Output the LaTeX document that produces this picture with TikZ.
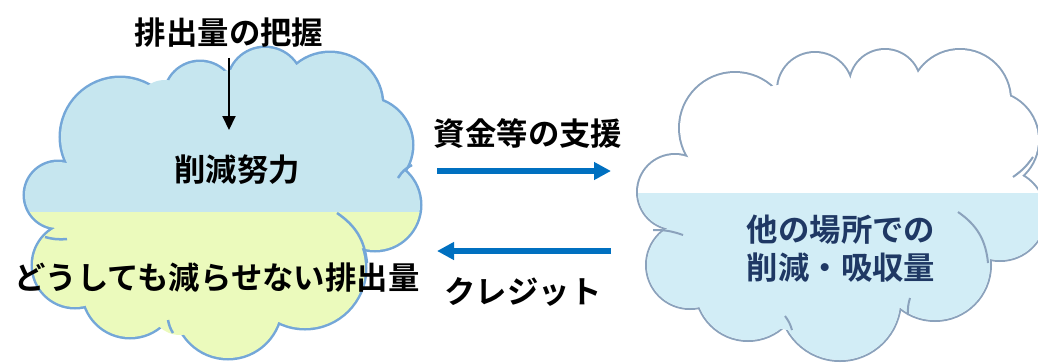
\documentclass[tikz,border=0pt]{standalone}
\usepackage{fontspec}
\newfontfamily\jp[BoldFont={Noto Sans CJK JP Bold}]{Noto Sans CJK JP}
\usetikzlibrary{arrows.meta}
\definecolor{effortblue}{HTML}{C6E6EF}
\definecolor{residyellow}{HTML}{EBFABC}
\definecolor{leftline}{HTML}{74A7D8}
\definecolor{rightline}{HTML}{8BA2BC}
\definecolor{offsetblue}{HTML}{D2EDF6}
\definecolor{flowblue}{HTML}{0070C0}
\definecolor{navytext}{HTML}{1F3864}
\tikzset{
  jptext/.style={font=\jp\bfseries\fontsize{31.5}{38}\selectfont, inner sep=0pt},
  flow/.style={line width=5.5bp, draw=flowblue, -{Triangle[length=17bp,width=17bp]}},
  leftpuffs/.style={insert path={
    (58,195) circle[radius=33bp] (120,137) circle[radius=59bp]
    (200,97) circle[radius=35bp] (265,85) circle[radius=37bp]
    (330,105) circle[radius=52bp] (365,145) circle[radius=47bp]
    (375,205) circle[radius=45bp] (305,268) circle[radius=60bp]
    (228,305) circle[radius=53bp] (130,290) circle[radius=47bp]
    (75,265) circle[radius=42bp]}},
  leftbody/.style={insert path={(220,205) ellipse[x radius=150bp, y radius=110bp]
    (165,110) circle[radius=30bp] (232,100) circle[radius=30bp] (295,100) circle[radius=30bp]
    (180,305) circle[radius=30bp] (90,235) circle[radius=30bp]}},
  rightpuffs/.style={insert path={
    (675,192) circle[radius=37bp] (735,128) circle[radius=55bp]
    (815,90) circle[radius=37bp] (885,85) circle[radius=35bp]
    (960,100) circle[radius=50bp] (990,140) circle[radius=48bp]
    (1000,215) circle[radius=45bp] (935,265) circle[radius=55bp]
    (840,300) circle[radius=60bp] (748,288) circle[radius=52bp]
    (690,265) circle[radius=43bp]}},
  rightbody/.style={insert path={(840,200) ellipse[x radius=150bp, y radius=100bp]
    (780,115) circle[radius=30bp] (850,110) circle[radius=30bp] (915,110) circle[radius=30bp]
    (790,300) circle[radius=30bp] (700,230) circle[radius=30bp]}},
}

\begin{document}
\begin{tikzpicture}[x=1bp,y=-1bp]
    \useasboundingbox (0,0) rectangle (1038,362);
    \clip (0,0) rectangle (1038,362);
    % left cloud
    \draw[leftline, line width=5bp, leftpuffs];
    \begin{scope}
        \clip (0,0) rectangle (1038,212);
        \fill[effortblue, leftpuffs, leftbody];
    \end{scope}
    \begin{scope}
        \clip (0,212) rectangle (1038,362);
        \fill[residyellow, leftpuffs, leftbody];
    \end{scope}
    \draw[leftline, line width=2.5bp] (337,213) to[bend left=25] (367,263);
    \draw[leftline, line width=2.5bp] (45,237) to[bend right=10] (67,239);
    \draw[leftline, line width=2.5bp] (168,320) to[bend right=10] (173,333);
    \draw[leftline, line width=2.5bp] (398,178) to[bend left=15] (412,165);
    % right cloud
    \draw[rightline, line width=4bp, rightpuffs];
    \fill[white, rightpuffs, rightbody];
    \begin{scope}
        \clip (0,193) rectangle (1038,362);
        \fill[offsetblue, rightpuffs, rightbody];
    \end{scope}
    \draw[rightline, line width=2bp] (958,212) to[bend left=25] (988,263);
    \draw[rightline, line width=2bp] (653,230) to[bend left=10] (683,235);
    \draw[rightline, line width=2bp] (910,298) to[bend right=10] (908,315);
    \draw[rightline, line width=2bp] (785,316) to[bend left=10] (792,330);
    \draw[rightline, line width=2bp] (1013,177) to[bend right=10] (1033,157);
    % texts
    \node[jptext] (grasp) at (229,33) {排出量の把握};
    \node[jptext] (effort) at (237,170) {削減努力};
    \node[jptext] (residual) at (217,278) {どうしても減らせない排出量};
    \node[jptext] (support) at (528,133) {資金等の支援};
    \node[jptext] (credit) at (523,292) {クレジット};
    \node[jptext, text=navytext, align=center] (offset) at (841,249) {他の場所での\\削減・吸収量};
    % arrows
    \coordinate (tip) at (229,130);
    \draw[line width=2bp, -{Triangle[length=14bp,width=13bp]}, shorten <=10bp] (grasp.south) -- (tip);
    \coordinate (suppL) at (437,171);
    \coordinate (suppR) at (611,171);
    \coordinate (credR) at (611,251);
    \coordinate (credL) at (437,251);
    \draw[flow] (suppL) -- (suppR);
    \draw[flow] (credR) -- (credL);
\end{tikzpicture}
\end{document}
